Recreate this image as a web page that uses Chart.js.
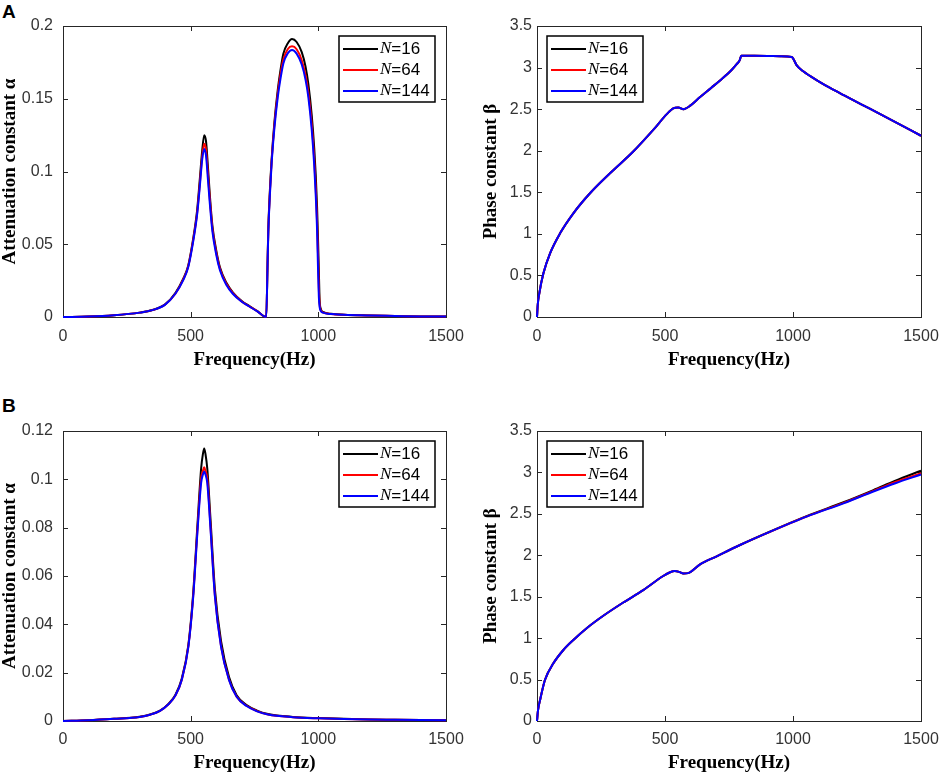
<!DOCTYPE html>
<html>
<head>
<meta charset="utf-8">
<script src="https://cdn.jsdelivr.net/npm/chart.js@4.4.1/dist/chart.umd.min.js"></script>
<style>
    html, body { margin: 0; padding: 0; background: #fff; }
    #page { position: relative; width: 941px; height: 775px; overflow: hidden; }
    canvas { position: absolute; }
    .panel-tag { position: absolute; font: bold 19px "Liberation Sans", Arial, sans-serif; line-height: 19px; color: #000; }
</style>
</head>
<body>
<div id="page">
    <div class="panel-tag" style="left:2px; top:2px;">A</div>
    <div class="panel-tag" style="left:2px; top:396px;">B</div>
    <canvas id="alphaA" width="470" height="385" style="left:0; top:0;"></canvas>
    <canvas id="betaA" width="471" height="385" style="left:470px; top:0;"></canvas>
    <canvas id="alphaB" width="470" height="390" style="left:0; top:385px;"></canvas>
    <canvas id="betaB" width="471" height="390" style="left:470px; top:385px;"></canvas>
</div>
<script>
const seriesLabels = ["N=16", "N=64", "N=144"];
const seriesColors = ["#000000", "#ff0000", "#0000ff"];
const freqTicks = [0, 500, 1000, 1500];

// Panel A, attenuation constant
const freqAlphaA = [0, 100, 200, 300, 350, 400, 440, 470, 490, 510, 525, 535, 545, 553, 560,
    567, 575, 585, 600, 615, 640, 665, 700, 730, 760, 796, 801, 804, 810, 817, 828, 841, 852,
    863, 880, 897, 915, 935, 950, 961, 974, 984, 990, 995, 999, 1002, 1005, 1010, 1018, 1050,
    1100, 1200, 1300, 1400, 1500];
const alphaA_N16 = [0, 0.0003, 0.0012, 0.003, 0.0048, 0.0087, 0.0165, 0.026, 0.035, 0.054,
    0.073, 0.093, 0.114, 0.125, 0.121, 0.105, 0.084, 0.063, 0.046, 0.034, 0.0235, 0.017, 0.011,
    0.0075, 0.0042, 0, 0.036, 0.06, 0.086, 0.108, 0.134, 0.156, 0.170, 0.181, 0.188, 0.191,
    0.189, 0.182, 0.172, 0.160, 0.139, 0.116, 0.097, 0.076, 0.052, 0.032, 0.012, 0.0055, 0.0035,
    0.0022, 0.0016, 0.0011, 0.0007, 0.0004, 0.0003];
const alphaA_N64 = [0, 0.0003, 0.0012, 0.003, 0.0047, 0.0086, 0.016, 0.0255, 0.0345, 0.053,
    0.071, 0.09, 0.11, 0.119, 0.115, 0.1, 0.081, 0.061, 0.0445, 0.033, 0.0228, 0.0165, 0.0107,
    0.0073, 0.0041, 0, 0.0355, 0.059, 0.0845, 0.107, 0.132, 0.1535, 0.167, 0.177, 0.184, 0.186,
    0.184, 0.1765, 0.166, 0.154, 0.133, 0.108, 0.088, 0.066, 0.041, 0.02, 0.009, 0.0045, 0.0032,
    0.0021, 0.0015, 0.001, 0.0007, 0.0004, 0.0003];
const alphaA_N144 = [0, 0.0003, 0.0012, 0.003, 0.0047, 0.0085, 0.016, 0.025, 0.034, 0.052,
    0.07, 0.088, 0.108, 0.1155, 0.111, 0.096, 0.078, 0.059, 0.043, 0.032, 0.022, 0.016, 0.0105,
    0.0072, 0.004, 0, 0.035, 0.058, 0.083, 0.1056, 0.13, 0.151, 0.164, 0.1743, 0.1812, 0.1835,
    0.181, 0.1735, 0.163, 0.151, 0.129, 0.104, 0.083, 0.06, 0.032, 0.014, 0.007, 0.004, 0.003,
    0.002, 0.0015, 0.001, 0.0007, 0.0004, 0.0003];

// Panel A, phase constant (the three N curves overlap)
const freqBetaA = [0, 3, 9, 25, 51, 90, 142, 207, 285, 376, 454, 507, 532, 552, 572, 600, 637,
    680, 715, 760, 780, 792, 798, 850, 900, 950, 995, 1002, 1014, 1040, 1066, 1100, 1145, 1200,
    1300, 1400, 1500];
const betaA = [0, 0.15, 0.285, 0.525, 0.766, 1.006, 1.247, 1.488, 1.728, 1.99, 2.25, 2.44,
    2.51, 2.52, 2.50, 2.545, 2.645, 2.755, 2.845, 2.97, 3.04, 3.09, 3.143, 3.142, 3.14, 3.136,
    3.128, 3.10, 3.03, 2.955, 2.9, 2.835, 2.755, 2.665, 2.505, 2.345, 2.18];

// Panel B, attenuation constant
const freqAlphaB = [0, 100, 200, 300, 341, 380, 412, 440, 465, 491, 510, 527, 541, 548, 553,
    558, 565, 578, 595, 619, 650, 680, 719, 760, 803, 900, 1000, 1100, 1200, 1300, 1400, 1500];
const alphaB_N16 = [0, 0.0003, 0.0009, 0.0018, 0.0027, 0.0043, 0.007, 0.0108, 0.0175, 0.0315,
    0.053, 0.082, 0.1045, 0.1105, 0.1128, 0.1105, 0.1045, 0.083, 0.0545, 0.033, 0.0183, 0.0107,
    0.0066, 0.0043, 0.0029, 0.0017, 0.0012, 0.0009, 0.0006, 0.0005, 0.0004, 0.0003];
const alphaB_N64 = [0, 0.0003, 0.0009, 0.0017, 0.0026, 0.0042, 0.0068, 0.0105, 0.017, 0.031,
    0.052, 0.08, 0.1005, 0.1035, 0.105, 0.1035, 0.1005, 0.08, 0.052, 0.031, 0.0172, 0.0101,
    0.0063, 0.0041, 0.0027, 0.0016, 0.0011, 0.0008, 0.0006, 0.0005, 0.0004, 0.0003];
const alphaB_N144 = [0, 0.0003, 0.0009, 0.0017, 0.0026, 0.0042, 0.0068, 0.0105, 0.017, 0.0307,
    0.0514, 0.079, 0.0985, 0.102, 0.1032, 0.102, 0.0985, 0.079, 0.0514, 0.0307, 0.017, 0.01,
    0.0062, 0.004, 0.0027, 0.0016, 0.0011, 0.0008, 0.0006, 0.0005, 0.0004, 0.0003];

// Panel B, phase constant
const freqBetaB = [0, 4, 12, 31, 64, 103, 142, 194, 259, 337, 415, 493, 520, 538, 555, 572,
    590, 637, 700, 793, 900, 1053, 1200, 1314, 1400, 1500];
const betaB_N16 = [0, 0.13, 0.253, 0.495, 0.696, 0.857, 0.978, 1.12, 1.27, 1.43, 1.58, 1.75,
    1.795, 1.81, 1.80, 1.78, 1.785, 1.89, 1.985, 2.124, 2.272, 2.472, 2.643, 2.787, 2.9, 3.02];
const betaB_N64 = [0, 0.13, 0.253, 0.495, 0.696, 0.857, 0.978, 1.12, 1.27, 1.43, 1.58, 1.75,
    1.795, 1.81, 1.80, 1.78, 1.785, 1.89, 1.985, 2.124, 2.27, 2.468, 2.635, 2.777, 2.885, 2.99];
const betaB_N144 = [0, 0.13, 0.253, 0.495, 0.696, 0.857, 0.978, 1.12, 1.27, 1.43, 1.58, 1.75,
    1.795, 1.81, 1.80, 1.78, 1.785, 1.89, 1.985, 2.124, 2.27, 2.466, 2.63, 2.77, 2.87, 2.975];

const TICK_FONT = { family: "'Liberation Sans', Arial, sans-serif", size: 16 };
const TITLE_FONT = { family: "'Liberation Serif', 'Times New Roman', serif", size: 19, weight: "bold", lineHeight: 1 };
const AXIS_COLOR = "#262626";
const TICK_LEN = 5;

// MATLAB-style box with inward ticks, plus boxed legend
const frameAndLegend = {
    id: "frameAndLegend",
    beforeDatasetsDraw(chart) {
        const { ctx, chartArea: a, scales } = chart;
        ctx.save();
        ctx.strokeStyle = AXIS_COLOR;
        ctx.lineWidth = 1;
        ctx.strokeRect(a.left + 0.5, a.top + 0.5, a.right - a.left, a.bottom - a.top);
        ctx.beginPath();
        scales.x.ticks.forEach(t => {
            const px = Math.round(scales.x.getPixelForValue(t.value)) + 0.5;
            ctx.moveTo(px, a.bottom); ctx.lineTo(px, a.bottom - TICK_LEN);
            ctx.moveTo(px, a.top); ctx.lineTo(px, a.top + TICK_LEN);
        });
        scales.y.ticks.forEach(t => {
            const py = Math.round(scales.y.getPixelForValue(t.value)) + 0.5;
            ctx.moveTo(a.left, py); ctx.lineTo(a.left + TICK_LEN, py);
            ctx.moveTo(a.right, py); ctx.lineTo(a.right - TICK_LEN, py);
        });
        ctx.stroke();
        ctx.restore();
    },
    afterDatasetsDraw(chart, args, opts) {
        const { ctx, chartArea: a } = chart;
        const w = 96, h = 66;
        const left = opts.side === "left" ? a.left + 10 : a.right - 11 - w;
        const top = a.top + 10;
        ctx.save();
        ctx.fillStyle = "#fff";
        ctx.fillRect(left, top, w, h);
        ctx.strokeStyle = "#000";
        ctx.lineWidth = 1.5;
        ctx.strokeRect(left, top, w, h);
        chart.data.datasets.forEach((ds, i) => {
            const y = top + 13 + i * 21;
            ctx.strokeStyle = ds.borderColor;
            ctx.lineWidth = 2;
            ctx.beginPath();
            ctx.moveTo(left + 4, y);
            ctx.lineTo(left + 39, y);
            ctx.stroke();
            ctx.fillStyle = "#000";
            ctx.textBaseline = "middle";
            ctx.textAlign = "left";
            ctx.font = "italic 17px 'Liberation Serif'";
            ctx.fillText("N", left + 41, y);
            const nw = ctx.measureText("N").width;
            ctx.font = "17px 'Liberation Sans'";
            ctx.fillText("=" + ds.label.split("=")[1], left + 41 + nw, y);
        });
        ctx.restore();
    }
};

function makeChart(id, freq, series, yMax, yStep, yTitle, L) {
    const datasets = series.map((vals, i) => ({
        label: seriesLabels[i],
        data: freq.map((f, k) => ({ x: f, y: vals[k] })),
        borderColor: seriesColors[i],
        borderWidth: 2,
        pointRadius: 0,
        cubicInterpolationMode: "monotone",
        clip: 3,
        order: series.length - 1 - i
    }));

    new Chart(document.getElementById(id).getContext("2d"), {
        type: "line",
        data: { datasets },
        plugins: [frameAndLegend],
        options: {
            responsive: false,
            animation: false,
            events: [],
            layout: { padding: { top: L.top, right: L.right, left: 0, bottom: 0 } },
            plugins: {
                legend: { display: false },
                tooltip: { enabled: false },
                frameAndLegend: { side: L.legend }
            },
            scales: {
                x: {
                    type: "linear",
                    min: 0,
                    max: 1500,
                    afterBuildTicks: s => { s.ticks = freqTicks.map(v => ({ value: v })); },
                    ticks: {
                        autoSkip: false,
                        maxRotation: 0,
                        padding: L.xPad,
                        color: "#333",
                        font: TICK_FONT,
                        callback: v => String(v)
                    },
                    grid: { display: false, drawTicks: false },
                    border: { display: false },
                    title: { display: true, text: "Frequency(Hz)", color: "#000", font: TITLE_FONT, padding: { top: 0, bottom: L.xTitlePad } },
                    afterFit: s => { s.height = L.xHeight; s.paddingLeft = 0; s.paddingRight = 0; }
                },
                y: {
                    type: "linear",
                    min: 0,
                    max: yMax,
                    ticks: {
                        stepSize: yStep,
                        padding: L.yPad,
                        color: "#333",
                        font: TICK_FONT,
                        callback: v => String(+v.toFixed(4))
                    },
                    grid: { display: false, drawTicks: false },
                    border: { display: false },
                    title: { display: true, text: yTitle, color: "#000", font: TITLE_FONT, padding: { top: L.yTitlePad, bottom: 0 } },
                    afterFit: s => { s.width = L.yWidth; s.paddingTop = 0; s.paddingBottom = 0; }
                }
            }
        }
    });
}

const leftTop = { top: 26, right: 24, yWidth: 63, xHeight: 68, yPad: 10, xPad: 10, yTitlePad: 0.5, xTitlePad: 15.5, legend: "right" };
const rightTop = { top: 26, right: 20, yWidth: 67, xHeight: 68, yPad: 5, xPad: 10, yTitlePad: 12, xTitlePad: 15.5, legend: "left" };
const leftBottom = { top: 46, right: 24, yWidth: 63, xHeight: 54, yPad: 10, xPad: 9, yTitlePad: 0.5, xTitlePad: 2.5, legend: "right" };
const rightBottom = { top: 46, right: 20, yWidth: 67, xHeight: 54, yPad: 5, xPad: 9, yTitlePad: 12, xTitlePad: 2.5, legend: "left" };

makeChart("alphaA", freqAlphaA, [alphaA_N16, alphaA_N64, alphaA_N144], 0.2, 0.05, "Attenuation constant α", leftTop);
makeChart("betaA", freqBetaA, [betaA, betaA, betaA], 3.5, 0.5, "Phase constant β", rightTop);
makeChart("alphaB", freqAlphaB, [alphaB_N16, alphaB_N64, alphaB_N144], 0.12, 0.02, "Attenuation constant α", leftBottom);
makeChart("betaB", freqBetaB, [betaB_N16, betaB_N64, betaB_N144], 3.5, 0.5, "Phase constant β", rightBottom);
</script>
</body>
</html>
